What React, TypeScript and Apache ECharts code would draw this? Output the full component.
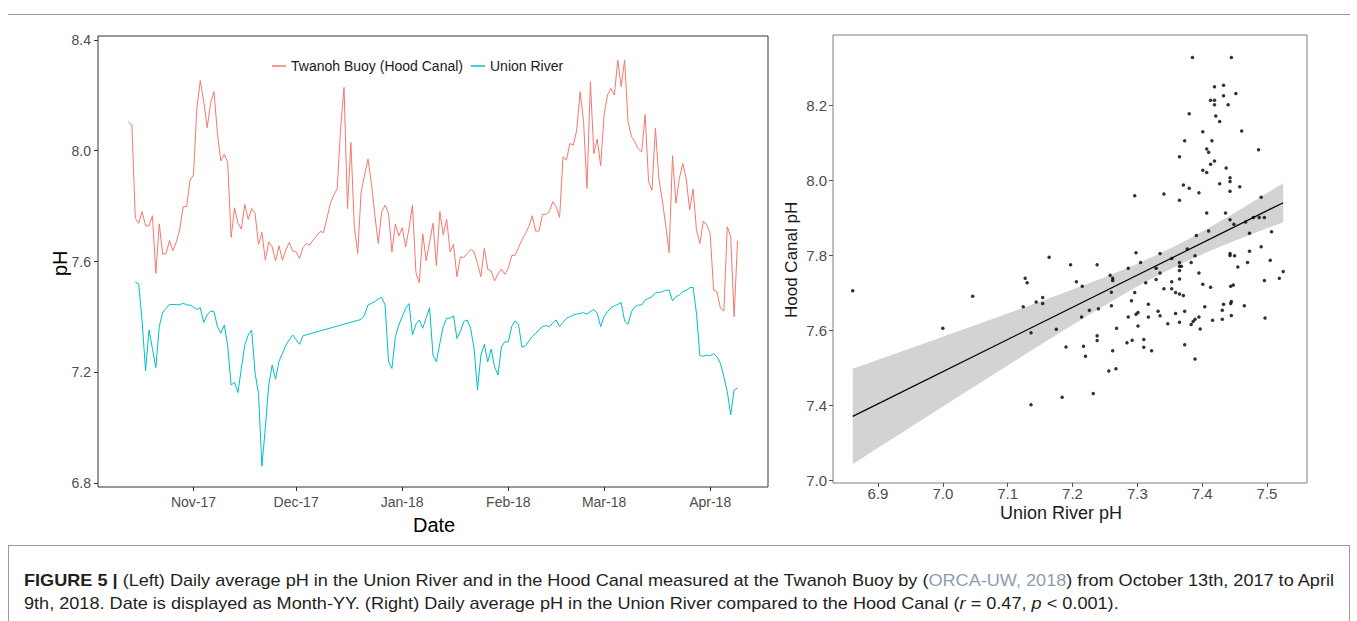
import React, { useEffect, useRef } from "react";
import * as echarts from "echarts";

// Daily average pH, one value per day starting at startDate (Oct 13, 2017 .. Apr 9, 2018)
const startDate = "2017-10-13";

const hoodCanalPH = [
  8.105, 8.093, 7.756, 7.738, 7.78, 7.729, 7.729, 7.765, 7.557, 7.736,
  7.626, 7.629, 7.676, 7.639, 7.671, 7.717, 7.798, 7.799, 7.894, 7.912,
  8.156, 8.253, 8.177, 8.083, 8.171, 8.213, 8.062, 7.963, 7.987, 7.958,
  7.687, 7.794, 7.738, 7.717, 7.806, 7.752, 7.791, 7.774, 7.662, 7.705,
  7.605, 7.671, 7.653, 7.602, 7.657, 7.605, 7.642, 7.669, 7.638, 7.635,
  7.611, 7.65, 7.665, 7.66, 7.678, 7.693, 7.708, 7.705, 7.756, 7.81,
  7.84, 7.862, 8.081, 8.229, 7.791, 8.029, 7.726, 7.629, 7.852, 7.912,
  7.97, 7.882, 7.768, 7.665, 7.78, 7.804, 7.774, 7.635, 7.735, 7.692,
  7.722, 7.653, 7.72, 7.804, 7.561, 7.523, 7.7, 7.603, 7.669, 7.738,
  7.585, 7.78, 7.696, 7.752, 7.635, 7.662, 7.545, 7.617, 7.615, 7.629,
  7.644, 7.635, 7.593, 7.545, 7.647, 7.572, 7.566, 7.53, 7.555, 7.573,
  7.554, 7.575, 7.621, 7.623, 7.65, 7.678, 7.7, 7.726, 7.765, 7.71,
  7.71, 7.77, 7.77, 7.78, 7.816, 7.798, 7.759, 7.978, 7.966, 8.026,
  8.02, 8.074, 8.213, 8.105, 7.864, 8.249, 7.99, 8.042, 7.946, 8.129,
  8.201, 8.225, 8.201, 8.327, 8.231, 8.327, 8.105, 8.051, 8.032, 8.006,
  7.996, 8.131, 7.888, 7.858, 8.081, 7.9, 7.822, 7.732, 7.632, 7.982,
  7.81, 7.9, 7.954, 7.9, 7.786, 7.862, 7.714, 7.665, 7.746, 7.732,
  7.701, 7.497, 7.491, 7.431, 7.421, 7.726, 7.69, 7.401, 7.675,
];

// null = no reading that day (line is joined across the gap)
const unionRiverPH: (number | null)[] = [
  null, null, 7.525, 7.519, 7.383, 7.206, 7.353, 7.286, 7.217, 7.365,
  7.416, 7.431, 7.445, 7.445, 7.444, 7.444, 7.45, 7.443, 7.443, 7.436,
  7.427, 7.433, 7.38, 7.407, 7.421, 7.419, 7.365, 7.341, 7.371, 7.296,
  7.154, 7.164, 7.127, 7.215, 7.298, 7.335, 7.353, 7.197, 7.124, 6.861,
  7.0, 7.154, 7.226, 7.175, 7.24, 7.268, 7.298, 7.317, 7.335, 7.317,
  7.301, 7.332, null, null, null, null, null, null, null, null,
  null, null, null, null, null, null, null, null, 7.391, 7.407,
  7.443, 7.449, 7.455, 7.465, 7.47, 7.443, 7.238, 7.214, 7.329, 7.371,
  7.401, 7.431, 7.448, 7.335, 7.373, 7.389, 7.359, 7.397, 7.433, 7.262,
  7.238, 7.305, 7.365, 7.395, 7.395, 7.404, 7.322, 7.347, 7.383, 7.389,
  7.359, 7.286, 7.136, 7.262, 7.301, 7.238, 7.284, 7.22, 7.19, 7.292,
  7.31, 7.31, 7.365, 7.386, 7.373, 7.291, 7.296, 7.313, 7.329, 7.341,
  7.353, 7.365, 7.368, 7.365, 7.377, 7.389, 7.365, 7.38, 7.395, 7.401,
  7.407, 7.41, 7.413, 7.415, 7.41, 7.419, 7.427, 7.413, 7.365, 7.401,
  7.419, 7.433, 7.44, 7.445, 7.452, 7.385, 7.373, 7.419, 7.437, 7.443,
  7.443, 7.461, 7.467, 7.473, 7.487, 7.488, 7.491, 7.496, 7.497, 7.458,
  7.473, 7.479, 7.491, 7.496, 7.505, 7.507, 7.413, 7.26, 7.258, 7.262,
  7.26, 7.267, 7.256, 7.232, 7.184, 7.13, 7.046, 7.136, 7.144,
];

const monthTickDates = ["2017-11-01", "2017-12-01", "2018-01-01", "2018-02-01", "2018-03-01", "2018-04-01"];
const monthTickLabels = ["Nov-17", "Dec-17", "Jan-18", "Feb-18", "Mar-18", "Apr-18"];
const timeSeriesTicks = [6.8, 7.2, 7.6, 8.0, 8.4];
const unionTicks = [6.9, 7.0, 7.1, 7.2, 7.3, 7.4, 7.5];
const hoodTicks = [7.2, 7.4, 7.6, 7.8, 8.0, 8.2];
const hoodTickLabels = ["7.0", "7.4", "7.6", "7.8", "8.0", "8.2"];

const HOOD_NAME = "Twanoh Buoy (Hood Canal)";
const UNION_NAME = "Union River";
const RED = "#F8766D";
const TEAL = "#00BFC4";
const FONT = "'Liberation Sans', Arial, sans-serif";

const DAY_MS = 86400000;
const dayOffset = (d: string) => Math.round((Date.parse(d) - Date.parse(startDate)) / DAY_MS);
const monthTickDays = monthTickDates.map(dayOffset);

// paired daily values for the scatter panel
const pairs: [number, number][] = [];
unionRiverPH.forEach((u, i) => {
  if (u !== null && hoodCanalPH[i] !== undefined) pairs.push([u, hoodCanalPH[i]]);
});

// ordinary least squares fit with a 95% confidence band
function fitLine(pts: [number, number][]) {
  const n = pts.length;
  const mx = pts.reduce((s, p) => s + p[0], 0) / n;
  const my = pts.reduce((s, p) => s + p[1], 0) / n;
  let sxx = 0, sxy = 0;
  pts.forEach(([x, y]) => { sxx += (x - mx) ** 2; sxy += (x - mx) * (y - my); });
  const b = sxy / sxx;
  const a = my - b * mx;
  let sse = 0;
  pts.forEach(([x, y]) => { sse += (y - (a + b * x)) ** 2; });
  const s = Math.sqrt(sse / (n - 2));
  const t = 1.975;
  const xs = pts.map((p) => p[0]);
  const x0 = Math.min(...xs), x1 = Math.max(...xs);
  const steps = 80;
  const band: { x: number; lo: number; hi: number }[] = [];
  for (let k = 0; k <= steps; k++) {
    const x = x0 + ((x1 - x0) * k) / steps;
    const yh = a + b * x;
    const se = s * Math.sqrt(1 / n + (x - mx) ** 2 / sxx);
    band.push({ x, lo: yh - t * se, hi: yh + t * se });
  }
  return { a, b, x0, x1, band };
}

export default function App() {
  const ref = useRef<HTMLDivElement>(null);

  useEffect(() => {
    if (!ref.current) return;
    const chart = echarts.init(ref.current, undefined, { renderer: "svg" });
    const fit = fitLine(pairs);
    const lastDay = hoodCanalPH.length - 1;
    const pad = lastDay * 0.05;

    const tickLabelStyle = { color: "#4d4d4d", fontFamily: FONT };

    chart.setOption({
      animation: false,
      legend: {
        data: [HOOD_NAME, UNION_NAME],
        left: 267,
        top: 54,
        icon: "rect",
        itemWidth: 14,
        itemHeight: 1.5,
        itemGap: 8,
        textStyle: { fontSize: 14, color: "#1a1a1a", fontFamily: FONT },
      },
      grid: [
        { left: 98, top: 36, width: 670, height: 451, show: true, borderColor: "#333333", borderWidth: 1, backgroundColor: "transparent" },
        { left: 833, top: 35, width: 474, height: 448, show: true, borderColor: "#7f7f7f", borderWidth: 1, backgroundColor: "transparent" },
      ],
      xAxis: [
        {
          gridIndex: 0,
          type: "value",
          min: -pad,
          max: lastDay + pad,
          axisLine: { show: false, onZero: false },
          splitLine: { show: false },
          axisTick: { show: true, length: 4, lineStyle: { color: "#333" }, customValues: monthTickDays },
          axisLabel: {
            ...tickLabelStyle,
            fontSize: 14,
            margin: 8,
            customValues: monthTickDays,
            formatter: (v: number) => monthTickLabels[monthTickDays.indexOf(Math.round(v))] ?? "",
          },
        },
        {
          gridIndex: 1,
          type: "value",
          min: 6.8306,
          max: 7.5617,
          axisLine: { show: false, onZero: false },
          splitLine: { show: false },
          axisTick: { show: true, length: 4, lineStyle: { color: "#555" }, customValues: unionTicks },
          axisLabel: {
            ...tickLabelStyle,
            fontSize: 15,
            margin: 3,
            customValues: unionTicks,
            formatter: (v: number) => v.toFixed(1),
          },
        },
      ],
      yAxis: [
        {
          gridIndex: 0,
          type: "value",
          min: 6.786,
          max: 8.414,
          axisLine: { show: false, onZero: false },
          splitLine: { show: false },
          axisTick: { show: true, length: 4, lineStyle: { color: "#333" }, customValues: timeSeriesTicks },
          axisLabel: {
            ...tickLabelStyle,
            fontSize: 14,
            margin: 7,
            customValues: timeSeriesTicks,
            formatter: (v: number) => v.toFixed(1),
          },
        },
        {
          gridIndex: 1,
          type: "value",
          min: 7.192,
          max: 8.387,
          axisLine: { show: false, onZero: false },
          splitLine: { show: false },
          axisTick: { show: true, length: 4, lineStyle: { color: "#555" }, customValues: hoodTicks },
          axisLabel: {
            ...tickLabelStyle,
            fontSize: 15,
            margin: 6,
            customValues: hoodTicks,
            formatter: (v: number) => {
              const i = hoodTicks.findIndex((t) => Math.abs(t - v) < 1e-6);
              return i >= 0 ? hoodTickLabels[i] : "";
            },
          },
        },
      ],
      graphic: [
        { type: "text", left: 413, top: 515, style: { text: "Date", fontSize: 20, fill: "#000", fontFamily: FONT } },
        { type: "text", x: 50, y: 276, rotation: Math.PI / 2, style: { text: "pH", fontSize: 20, fill: "#000", fontFamily: FONT } },
        { type: "text", x: 783, y: 318, rotation: Math.PI / 2, style: { text: "Hood Canal pH", fontSize: 17, fill: "#1a1a1a", fontFamily: FONT } },
        { type: "text", x: 1000, y: 504, style: { text: "Union River pH", fontSize: 18, fill: "#1a1a1a", fontFamily: FONT } },
      ],
      series: [
        {
          name: HOOD_NAME,
          type: "line",
          xAxisIndex: 0,
          yAxisIndex: 0,
          showSymbol: false,
          color: RED,
          lineStyle: { width: 1, color: RED },
          data: hoodCanalPH.map((v, i) => [i, v]),
        },
        {
          name: UNION_NAME,
          type: "line",
          xAxisIndex: 0,
          yAxisIndex: 0,
          showSymbol: false,
          connectNulls: true,
          color: TEAL,
          lineStyle: { width: 1, color: TEAL },
          data: unionRiverPH.map((v, i) => [i, v]),
        },
        {
          name: "band",
          type: "custom",
          xAxisIndex: 1,
          yAxisIndex: 1,
          silent: true,
          z: 1,
          data: [[fit.x0, fit.a + fit.b * fit.x0]],
          renderItem: (_params: any, api: any) => {
            const upper = fit.band.map((p) => api.coord([p.x, p.hi]));
            const lower = fit.band.slice().reverse().map((p) => api.coord([p.x, p.lo]));
            return { type: "polygon", shape: { points: [...upper, ...lower] }, style: { fill: "#d3d3d3" } };
          },
        },
        {
          name: "fit",
          type: "line",
          xAxisIndex: 1,
          yAxisIndex: 1,
          showSymbol: false,
          silent: true,
          z: 3,
          lineStyle: { width: 1.2, color: "#000" },
          data: [[fit.x0, fit.a + fit.b * fit.x0], [fit.x1, fit.a + fit.b * fit.x1]],
        },
        {
          name: "daily",
          type: "scatter",
          xAxisIndex: 1,
          yAxisIndex: 1,
          symbolSize: 3.5,
          z: 4,
          itemStyle: { color: "#000" },
          data: pairs,
        },
      ],
    });
    return () => chart.dispose();
  }, []);

  return (
    <div style={{ position: "absolute", left: 0, top: 0, width: 1357, height: 621, background: "#fff", overflow: "hidden" }}>
      <div ref={ref} style={{ position: "absolute", left: 0, top: 0, width: 1357, height: 545 }} />
      <div style={{ position: "absolute", left: 8, top: 14, width: 1342, height: 1, background: "#9a9a9a" }} />
      <div style={{ position: "absolute", left: 8, top: 545, width: 1342, height: 90, border: "1px solid #9a9a9a", boxSizing: "border-box" }} />
      <div
        style={{
          position: "absolute",
          left: 24,
          top: 569,
          whiteSpace: "nowrap",
          fontFamily: "'Liberation Sans', Arial, sans-serif",
          fontSize: 17,
          lineHeight: "23px",
          color: "#231f20",
          transform: "scaleX(1.065)",
          transformOrigin: "0 0",
        }}
      >
        <b>FIGURE 5 |</b> (Left) Daily average pH in the Union River and in the Hood Canal measured at the Twanoh Buoy by (
        <span style={{ color: "#8d9db1" }}>ORCA-UW, 2018</span>) from October 13th, 2017 to April
        <br />
        9th, 2018. Date is displayed as Month-YY. (Right) Daily average pH in the Union River compared to the Hood Canal (<i>r</i> = 0.47,{" "}
        <i>p</i> &lt; 0.001).
      </div>
    </div>
  );
}
